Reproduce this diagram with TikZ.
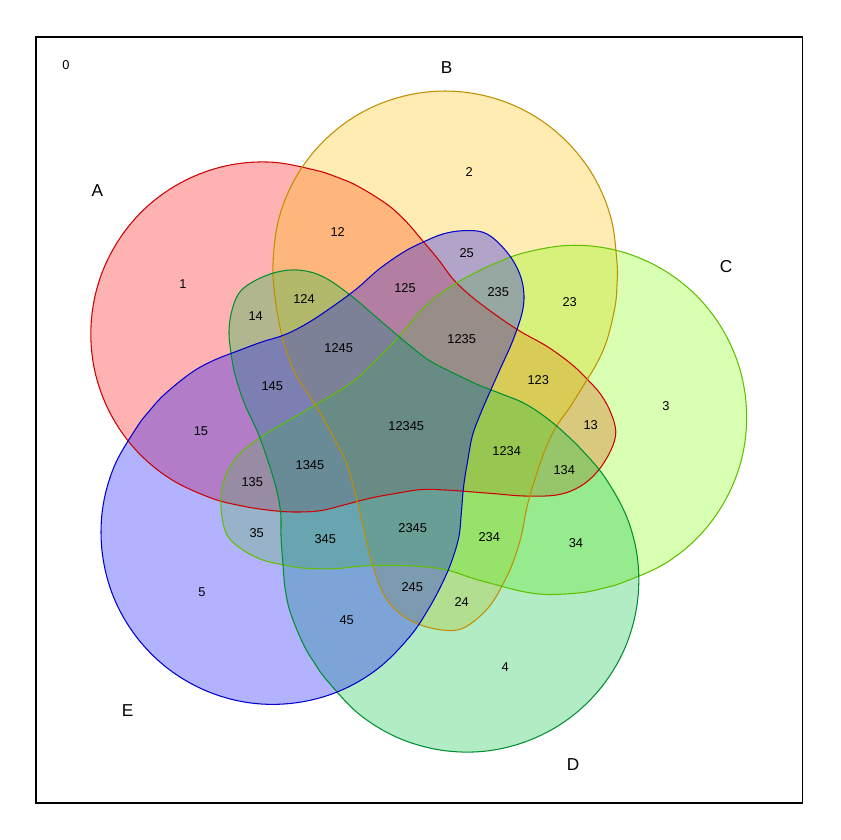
\documentclass[tikz,border=0pt]{standalone}
\usepackage{fontspec}
\setmainfont{Liberation Sans}

\definecolor{setA}{HTML}{FF0000}
\definecolor{setB}{HTML}{FFBF00}
\definecolor{setC}{HTML}{80FF00}
\definecolor{setD}{HTML}{00BF40}
\definecolor{setE}{HTML}{0000FF}

\newcommand{\petal}{plot[smooth cycle, tension=0.6] coordinates {
  (617,263) (611.1,218.5) (594,177) (566.6,141.4) (531,114) (489.5,96.9)
  (445,91) (400.5,96.9) (359,114) (323.4,141.4) (296,177) (278.9,218.5)
  (273,263) (275,297) (280,327) (286,350) (295,373) (308,394) (322,416)
  (335,440) (346,462) (353,485) (358,505) (364,530) (372,563) (383,593)
  (398,612) (418,624) (442,630) (461,629) (478,618) (492,603) (503,584)
  (512,565) (521,537) (527,507) (535,479) (545,450) (556,427) (570,407)
  (585,383) (597,363) (607,340) (615,307) (617,285)}}

\tikzset{
  zone/.style={font=\fontsize{7.3}{8}\selectfont, inner sep=0pt},
  setname/.style={font=\fontsize{9.8}{11}\selectfont, inner sep=0pt},
  turnA/.style={shift={(0,-2.5)}, rotate around={72:(404.4,425.1)}},
  turnC/.style={shift={(3.4,-0.2)}, rotate around={-73.3:(404.4,425.1)}},
  turnD/.style={rotate around={-144:(404.4,425.1)}},
  turnE/.style={rotate around={-1.5:(272.5,532.5)}, shift={(-3.3,0)}, rotate around={144:(404.4,425.1)}},
}

\begin{document}
\begin{tikzpicture}[x=0.02cm, y=-0.02cm]
  \useasboundingbox (0,0) rectangle (840,840);
  \draw[line width=0.7pt] (36,37) rectangle (802.5,803);

  \fill[setA, fill opacity=0.3, turnA] \petal;
  \fill[setB, fill opacity=0.3] \petal;
  \fill[setC, fill opacity=0.3, turnC] \petal;
  \fill[setD, fill opacity=0.3, turnD] \petal;
  \fill[setE, fill opacity=0.3, turnE] \petal;

  \draw[setA!80!black, line width=0.6pt, turnA] \petal;
  \draw[setB!75!black, line width=0.6pt] \petal;
  \draw[setC!75!black, line width=0.6pt, turnC] \petal;
  \draw[setD!75!black, line width=0.6pt, turnD] \petal;
  \draw[setE!80!black, line width=0.6pt, turnE] \petal;

  \node[setname] (A) at (97.3,190.7) {A};
  \node[setname] (B) at (446.7,67.3) {B};
  \node[setname] (C) at (726,266.7) {C};
  \node[setname] (D) at (573,765) {D};
  \node[setname] (E) at (127.7,711) {E};

  \node[zone] (z0) at (66,65.3) {0};
  \node[zone] (z1) at (183,283.7) {1};
  \node[zone] (z2) at (469.3,172.3) {2};
  \node[zone] (z3) at (666,406.3) {3};
  \node[zone] (z4) at (505.3,667.3) {4};
  \node[zone] (z5) at (202,591.7) {5};
  \node[zone] (z12) at (337.7,231.7) {12};
  \node[zone] (z13) at (590.7,424.7) {13};
  \node[zone] (z14) at (255.7,316.3) {14};
  \node[zone] (z15) at (201,430.7) {15};
  \node[zone] (z23) at (569.7,301.7) {23};
  \node[zone] (z24) at (461.7,601.7) {24};
  \node[zone] (z25) at (466.7,252.7) {25};
  \node[zone] (z34) at (576,542.7) {34};
  \node[zone] (z35) at (256.7,532.7) {35};
  \node[zone] (z45) at (346.7,620.3) {45};
  \node[zone] (z123) at (538.3,380.3) {123};
  \node[zone] (z124) at (304,298.7) {124};
  \node[zone] (z125) at (405,287.7) {125};
  \node[zone] (z134) at (564.3,469.7) {134};
  \node[zone] (z135) at (252.3,481.7) {135};
  \node[zone] (z145) at (272.3,385.7) {145};
  \node[zone] (z234) at (489.3,536.7) {234};
  \node[zone] (z235) at (498.3,291.7) {235};
  \node[zone] (z245) at (412.3,587.3) {245};
  \node[zone] (z345) at (325.3,539.3) {345};
  \node[zone] (z1234) at (506.7,450.7) {1234};
  \node[zone] (z1235) at (461.7,338.7) {1235};
  \node[zone] (z1245) at (338.7,347.7) {1245};
  \node[zone] (z1345) at (310,464.7) {1345};
  \node[zone] (z2345) at (412.7,528.3) {2345};
  \node[zone] (z12345) at (406.3,425.7) {12345};
\end{tikzpicture}
\end{document}
